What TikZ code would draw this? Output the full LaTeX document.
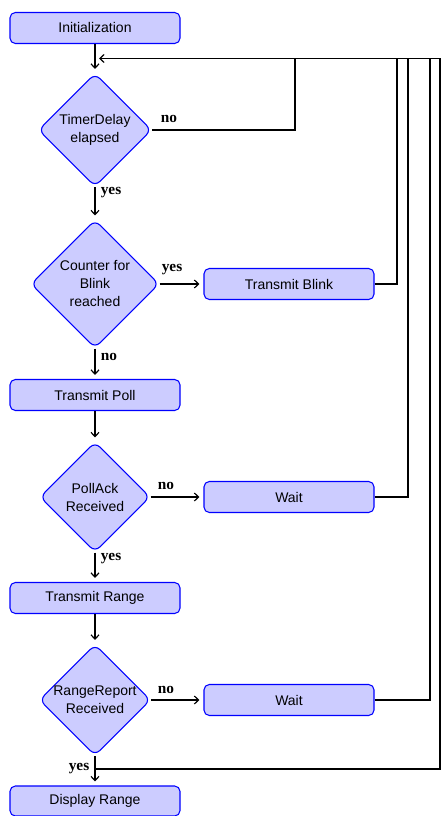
\documentclass[tikz,border=0pt]{standalone}
\usepackage{fontspec}
\setmainfont{Liberation Serif}
\setsansfont{Liberation Sans}
\usetikzlibrary{shapes.geometric,arrows.meta}

\tikzset{every picture/.style={line width=0.9pt}}
\tikzset{
  procbox/.style={draw=blue, fill=blue!20, rounded corners=4pt, line width=0.8pt,
    minimum width=127.5pt, minimum height=23.25pt, inner sep=0pt,
    font=\sffamily\fontsize{10.5}{13.5}\selectfont},
  decbox/.style={diamond, aspect=1, draw=blue, fill=blue!20, rounded corners=5pt, line width=0.8pt,
    inner sep=0pt, align=center, font=\sffamily\fontsize{10.5}{13.5}\selectfont},
  lbl/.style={inner sep=0.75pt, font=\fontsize{11.5}{13}\selectfont\bfseries},
  flow/.style={-{Straight Barb[length=3.2pt,width=6pt]}, shorten >=3pt}
}

\begin{document}
\begin{tikzpicture}[x=0.75pt,y=0.75pt,yscale=-1,xscale=1]
\useasboundingbox (0,0) rectangle (441,816);

%Shapes: main column
\node [procbox] (init) at (95,28) {Initialization};
\node [decbox, minimum size=84.75pt] (d1) at (95,130) {TimerDelay\\elapsed};
\node [decbox, minimum size=96pt] (d2) at (95,284) {Counter for\\Blink\\reached};
\node [procbox] (poll) at (95,395) {Transmit Poll};
\node [decbox, minimum size=82.5pt] (d3) at (95,497) {PollAck\\Received};
\node [procbox] (range) at (95,598) {Transmit Range};
\node [decbox, minimum size=82.5pt] (d4) at (95,700) {RangeReport\\Received};
\node [procbox, minimum height=22.5pt] (disp) at (95,801) {Display Range};

%Shapes: side column
\node [procbox] (blink) at (289,284) {Transmit Blink};
\node [procbox] (wait1) at (289,497) {Wait};
\node [procbox] (wait2) at (289,700) {Wait};

%Points of the return lines
\coordinate (jn) at (95,58.5);
\coordinate (r1) at (295,58.5);
\coordinate (r2) at (397,58.5);
\coordinate (r3) at (408,58.5);
\coordinate (r4) at (430,58.5);
\coordinate (r5) at (440,58.5);
\coordinate (yj) at (95,769);

%Straight Lines
\draw [flow] (init) -- (d1);
\draw [flow] (d1) -- (d2);
\draw [flow] (d2) -- (poll);
\draw [flow] (poll) -- (d3);
\draw [flow] (d3) -- (range);
\draw [flow] (range) -- (d4);
\draw [flow] (d4) -- (disp);
\draw [flow] (d2) -- (blink);
\draw [flow] (d3) -- (wait1);
\draw [flow] (d4) -- (wait2);

%Return Lines
\draw (d1.east) -| (r1);
\draw (blink.east) -| (r2);
\draw (wait1.east) -| (r3);
\draw (wait2.east) -| (r4);
\draw (yj) -| (r5);
\draw [flow] (r5) -- (jn);

% Text Node
\node [lbl] (no1) at (169,119) {no};
% Text Node
\node [lbl] (yes1) at (111,193) {yes};
% Text Node
\node [lbl] (yes2) at (172,270) {yes};
% Text Node
\node [lbl] (no2) at (109,357) {no};
% Text Node
\node [lbl] (no3) at (166,486) {no};
% Text Node
\node [lbl] (yes3) at (111,559) {yes};
% Text Node
\node [lbl] (no4) at (166,690) {no};
% Text Node
\node [lbl] (yes4) at (79,769) {yes};

\end{tikzpicture}
\end{document}
